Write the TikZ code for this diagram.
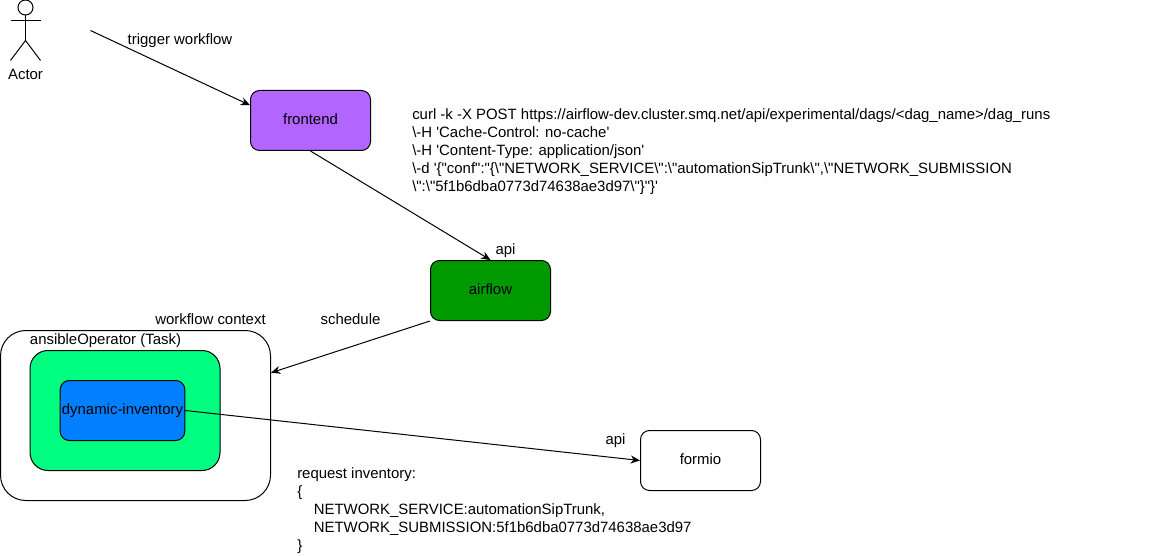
\documentclass[tikz,border=0pt]{standalone}
\usepackage{fontspec}
\setmainfont[Ligatures=TeXOff]{Liberation Sans}
\usetikzlibrary{arrows.meta,calc}
\definecolor{cfront}{HTML}{B266FF}
\definecolor{cair}{HTML}{009900}
\definecolor{cans}{HTML}{00FF80}
\definecolor{cdyn}{HTML}{007FFF}
\tikzset{
  boxstyle/.style={draw=black,line width=0.75pt,inner sep=0pt,font=\fontsize{11.2}{13.5}\selectfont},
  smallbox/.style={boxstyle,rounded corners=6.75pt,minimum width=90pt,minimum height=45pt},
  lbl/.style={inner sep=0pt,font=\fontsize{11.2}{13.5}\selectfont,text=black},
  multi/.style={lbl,anchor=north west,align=left},
  conn/.style={line width=0.75pt,-{Stealth[length=7pt,width=6pt]}},
  stick/.style={line width=0.75pt}
}
\begin{document}
\begin{tikzpicture}[x=0.75pt,y=-0.75pt]
\useasboundingbox (0,0) rectangle (1171,556);
% actor
\node[draw=black,line width=0.75pt,circle,minimum size=11.25pt,inner sep=0pt] (head) at (25.5,7.5) {};
\coordinate (arml) at (10.5,20.5);
\coordinate (armr) at (40.5,20.5);
\coordinate (hip) at (25.5,40.5);
\coordinate (legl) at (10.5,60.5);
\coordinate (legr) at (40.5,60.5);
\draw[stick] (head.south) -- (hip);
\draw[stick] (arml) -- (armr);
\draw[stick] (legl) -- (hip) -- (legr);
\node[lbl] (actor) at (25.5,74) {Actor};
% boxes
\node[smallbox,fill=cfront] (frontend) at (310.5,120.5) {\raisebox{2pt}{frontend}};
\node[smallbox,fill=cair] (airflow) at (490.5,290.5) {\raisebox{2pt}{airflow}};
\node[smallbox] (formio) at (700.5,460.5) {\raisebox{2pt}{formio}};
\node[boxstyle,rounded corners=19pt,minimum width=202.5pt,minimum height=127.5pt] (context) at (135.5,415.5) {};
\node[boxstyle,rounded corners=13.5pt,fill=cans,minimum width=142.5pt,minimum height=90pt] (ansible) at (125,410.5) {};
\node[smallbox,fill=cdyn,minimum width=93.4pt] (dyn) at (122.5,410.5) {dynamic-inventory};
% labels
\node[lbl] (ltrigger) at (180,41) {trigger workflow};
\node[lbl] (lapi1) at (505.5,251) {api};
\node[lbl] (lsched) at (350.5,319) {schedule};
\node[lbl] (lctx) at (210.5,319) {workflow context};
\node[lbl] (lans) at (105.5,341) {ansibleOperator (Task)};
\node[lbl] (lapi2) at (615.5,441) {api};
\node[multi] (curl) at (412,108.5) {curl -k -X POST https://airflow-dev.cluster.smq.net/api/experimental/dags/<dag\_name>/dag\_runs\\
\textbackslash-H 'Cache-Control: no-cache'\\
\textbackslash-H 'Content-Type: application/json'\\
\textbackslash-d '\{"conf":"\{\textbackslash"NETWORK\_SERVICE\textbackslash":\textbackslash"automationSipTrunk\textbackslash",\textbackslash"NETWORK\_SUBMISSION\\
\textbackslash":\textbackslash"5f1b6dba0773d74638ae3d97\textbackslash"\}"\}'};
\node[multi] (inv) at (297,467.5) {request inventory:\\
\{\\
\hspace*{12.4pt}NETWORK\_SERVICE:automationSipTrunk,\\
\hspace*{12.4pt}NETWORK\_SUBMISSION:5f1b6dba0773d74638ae3d97\\
\}};
% connectors
\coordinate (start) at (90.5,30.5);
\coordinate (frontin) at ($(frontend.north west)!0.25!(frontend.south west)$);
\coordinate (ctxin) at ($(context.north east)!0.25!(context.south east)$);
\draw[conn] (start) -- (frontin);
\draw[conn] (frontend.south) -- (airflow.north);
\draw[conn] (airflow.south west) -- (ctxin);
\draw[conn] (dyn.east) -- (formio.west);
\end{tikzpicture}
\end{document}
